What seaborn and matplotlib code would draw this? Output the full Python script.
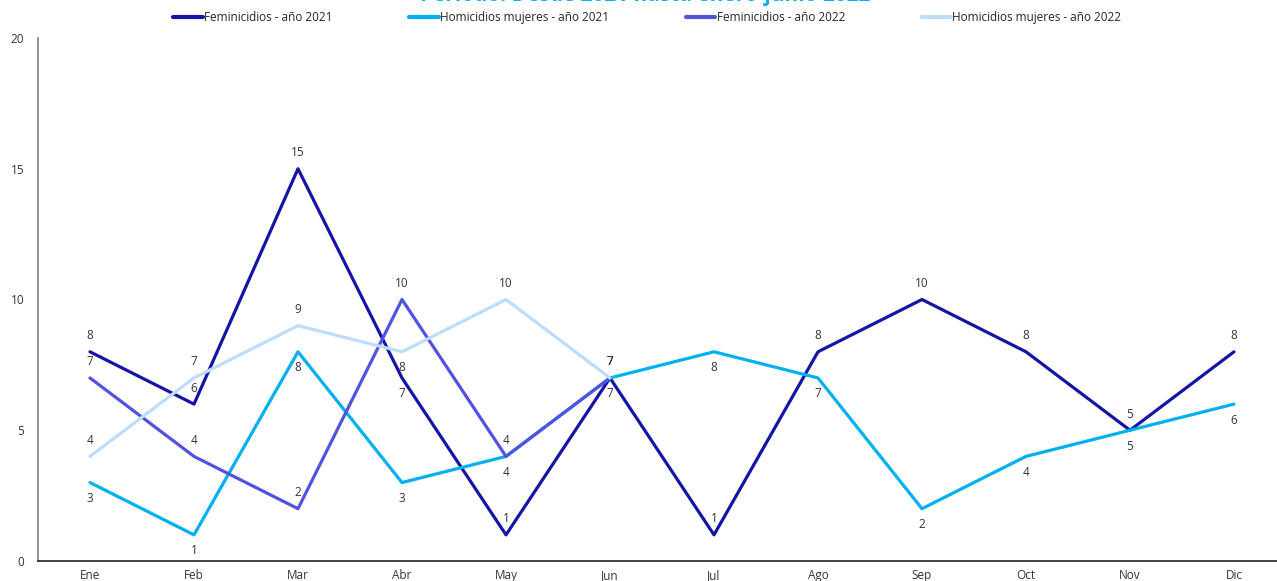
import matplotlib
matplotlib.use("Agg")
import matplotlib.pyplot as plt
import seaborn as sns
import pandas as pd

meses = ["Ene", "Feb", "Mar", "Abr", "May", "Jun", "Jul", "Ago", "Sep", "Oct", "Nov", "Dic"]
fem_2021 = [8, 6, 15, 7, 1, 7, 1, 8, 10, 8, 5, 8]
hom_2021 = [3, 1, 8, 3, 4, 7, 8, 7, 2, 4, 5, 6]
fem_2022 = [7, 4, 2, 10, 4, 7]
hom_2022 = [4, 7, 9, 8, 10, 7]

series = {
    "Feminicidios - año 2021": fem_2021,
    "Homicidios mujeres - año 2021": hom_2021,
    "Feminicidios - año 2022": fem_2022,
    "Homicidios mujeres - año 2022": hom_2022,
}
colores = ["#1414A6", "#00B0F0", "#5352E0", "#BDDDFB"]
# label placement: +1 above, -1 below
posicion = {
    "Feminicidios - año 2021": [1, 1, 1, -1, 1, 1, 1, 1, 1, 1, 1, 1],
    "Homicidios mujeres - año 2021": [-1] * 12,
    "Feminicidios - año 2022": [1] * 6,
    "Homicidios mujeres - año 2022": [1, 1, 1, -1, 1, 1],
}

rows = []
for name, vals in series.items():
    for m, v in zip(meses, vals):
        rows.append({"mes": m, "casos": v, "serie": name})
df = pd.DataFrame(rows)

sns.set_style("white")
plt.rcParams["font.family"] = ["Open Sans", "DejaVu Sans"]

fig = plt.figure(figsize=(12.77, 5.81), dpi=100)
ax = fig.add_axes([38 / 1277, 20 / 581, 1248 / 1277, 523 / 581])

sns.lineplot(data=df, x="mes", y="casos", hue="serie", palette=colores,
             linewidth=2.3, sort=False, ax=ax, legend=False)

pos = {m: i for i, m in enumerate(meses)}
for name, vals in series.items():
    for m, v, p in zip(meses, vals, posicion[name]):
        ax.annotate(str(v), (pos[m], v), xytext=(0, 11.5 * p), textcoords="offset points",
                    ha="center", va="center", fontsize=8.5, color="#333333")

ax.set_xlim(-0.5, 11.5)
ax.set_ylim(0, 20)
ax.set_yticks([0, 5, 10, 15, 20])
ax.set_xlabel("")
ax.set_ylabel("")
ax.tick_params(axis="both", labelsize=8.5, colors="#333333", length=0)
ax.tick_params(axis="x", pad=6)
ax.tick_params(axis="y", pad=10)
for s in ["top", "right"]:
    ax.spines[s].set_visible(False)
ax.spines["left"].set_color("#808080")
ax.spines["left"].set_linewidth(1.2)
ax.spines["bottom"].set_color("#222222")
ax.spines["bottom"].set_linewidth(1.2)

handles = [plt.Line2D([], [], color=c, linewidth=3) for c in colores]
fig.legend(handles, list(series.keys()), loc="center", bbox_to_anchor=(0.507, 0.97),
           ncol=4, frameon=False, fontsize=8.5, handlelength=2.5, handletextpad=0.1,
           columnspacing=6.5)

fig.text(0.505, 1 - 1.5 / 581, "Periodo: Desde 2021 hasta enero-junio 2022", ha="center",
         va="baseline", fontsize=15, fontweight="bold", color="#00B0F0")

fig.savefig("out.png", dpi=100)
